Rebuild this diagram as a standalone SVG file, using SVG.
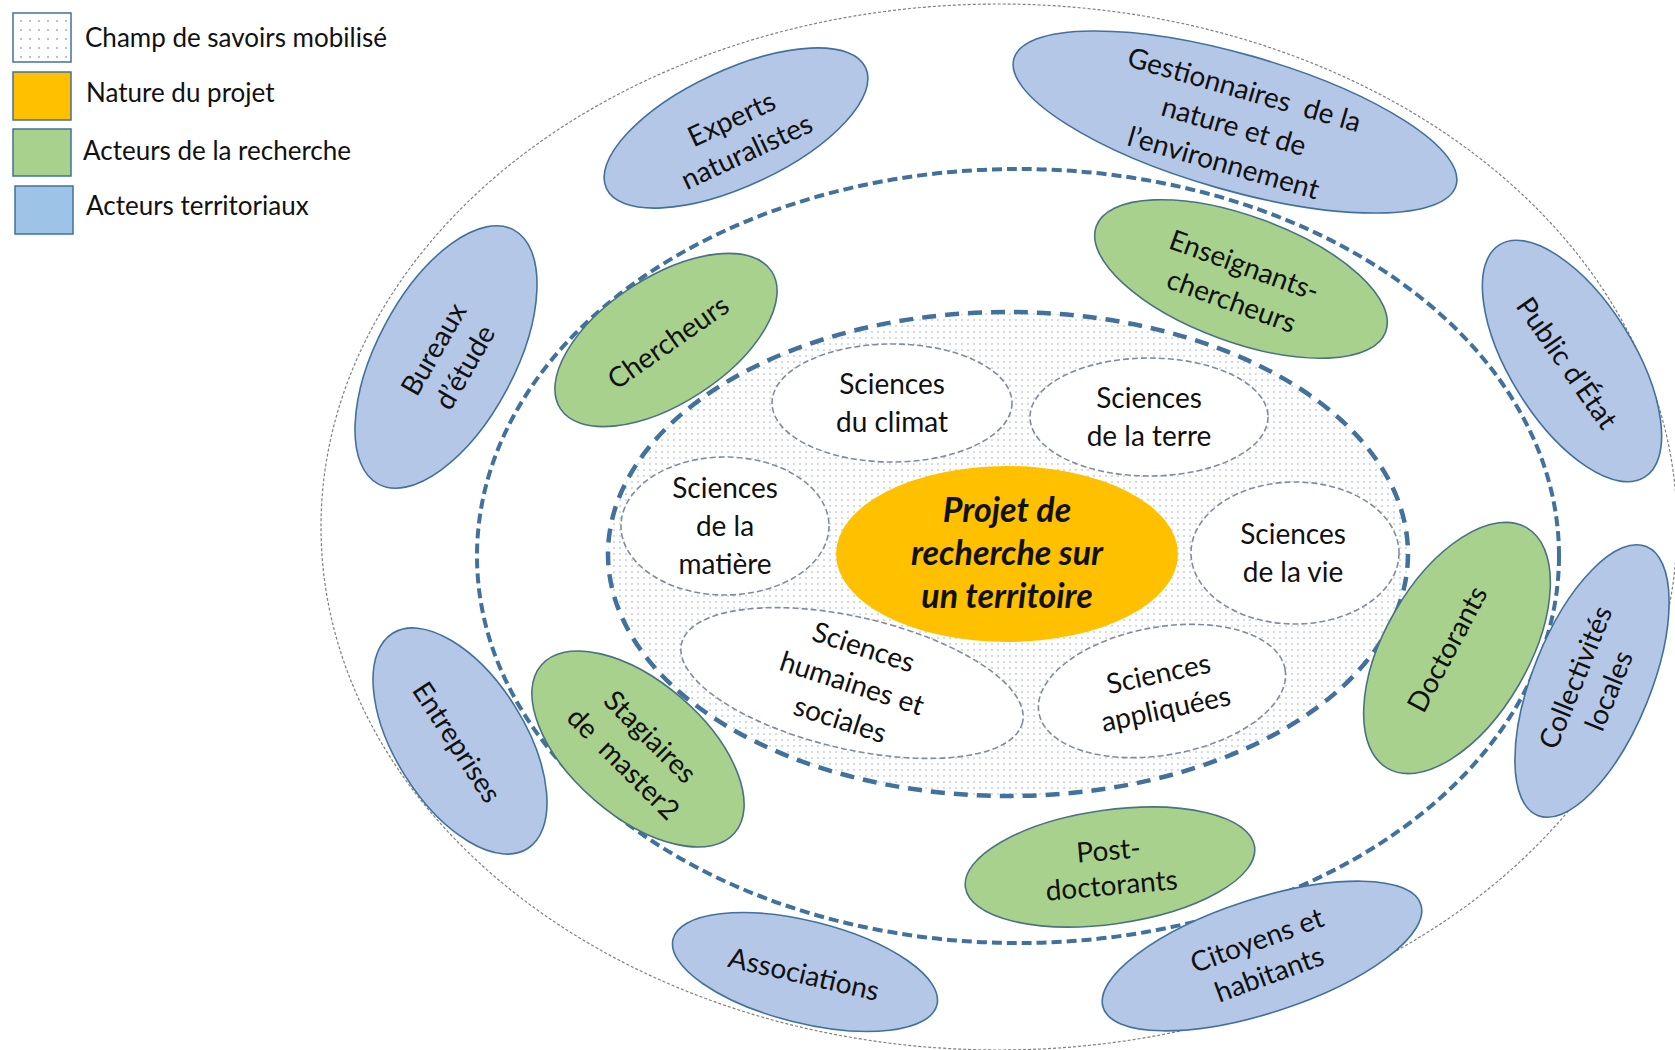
<svg xmlns="http://www.w3.org/2000/svg" width="1675" height="1050" viewBox="0 0 1675 1050">
<defs>
<pattern id="dots" width="6" height="6" patternUnits="userSpaceOnUse"><rect width="6" height="6" fill="#fff"/><circle cx="2" cy="2" r="0.75" fill="#9aa4b6"/></pattern>
<pattern id="dotsL" width="9" height="9" patternUnits="userSpaceOnUse"><rect width="9" height="9" fill="#fff"/><circle cx="3" cy="3" r="0.9" fill="#9aa4b6"/></pattern>
<style>
text { font-family: Lato, "Liberation Sans", sans-serif; fill: #111; text-anchor: middle; }
.lg { font-size: 26px; text-anchor: start; }
.n { font-size: 28px; }
.c { font-size: 34px; font-weight: bold; font-style: italic; }
.blue { fill: #B4C7E7; stroke: #41719C; stroke-width: 1.6; }
.green { fill: #A9D18E; stroke: #4A7380; stroke-width: 1.6; }
.sci { fill: #fff; stroke: #7F8C9E; stroke-width: 1.6; stroke-dasharray: 6 3; }
.box { stroke: #41719C; stroke-width: 1.5; }
</style>
</defs>
<rect width="1675" height="1050" fill="#fff"/>

<g id="legend">
  <rect class="box" x="13" y="13" width="58" height="49" fill="url(#dotsL)"/>
  <rect class="box" x="13" y="72" width="58" height="48" fill="#FFC000" stroke="#5a6f7f"/>
  <rect class="box" x="13" y="129" width="58" height="47" fill="#A9D18E"/>
  <rect class="box" x="15" y="186" width="58" height="48" fill="#9DC3E6"/>
  <text class="lg" x="85" y="47">Champ de savoirs mobilisé</text>
  <text class="lg" x="86" y="102">Nature du projet</text>
  <text class="lg" x="83" y="160">Acteurs de la recherche</text>
  <text class="lg" x="86" y="215">Acteurs territoriaux</text>
</g>

<g id="zones">
  <ellipse cx="999" cy="527" rx="678" ry="523" fill="none" stroke="#808080" stroke-width="1.2" stroke-dasharray="3 2"/>
  <ellipse cx="1018" cy="556" rx="541" ry="387" fill="none" stroke="#41719C" stroke-width="4" stroke-dasharray="10 5"/>
  <ellipse cx="1008" cy="554" rx="400" ry="242" fill="url(#dots)" stroke="#41719C" stroke-width="4.5" stroke-dasharray="14 9"/>
</g>

<g id="connectors"></g>

<g id="sci-climat" transform="translate(892,403)">
  <ellipse class="sci" rx="120" ry="59"/>
  <text class="n"><tspan x="0" y="-9">Sciences</tspan><tspan x="0" y="29">du climat</tspan></text>
</g>
<g id="sci-terre" transform="translate(1149,417)">
  <ellipse class="sci" rx="119" ry="59"/>
  <text class="n"><tspan x="0" y="-9">Sciences</tspan><tspan x="0" y="29">de la terre</tspan></text>
</g>
<g id="sci-matiere" transform="translate(725,526)">
  <ellipse class="sci" rx="104" ry="69"/>
  <text class="n"><tspan x="0" y="-28">Sciences</tspan><tspan x="0" y="10">de la</tspan><tspan x="0" y="48">matière</tspan></text>
</g>
<g id="sci-vie" transform="translate(1295,553)">
  <ellipse class="sci" rx="104" ry="71"/>
  <text class="n"><tspan x="-2" y="-9">Sciences</tspan><tspan x="-2" y="29">de la vie</tspan></text>
</g>
<g id="sci-humaines" transform="translate(852,683)">
  <ellipse class="sci" rx="175" ry="66" transform="rotate(13)"/>
  <text class="n" transform="rotate(18)"><tspan x="0" y="-28">Sciences</tspan><tspan x="0" y="10">humaines et</tspan><tspan x="0" y="48">sociales</tspan></text>
</g>
<g id="sci-appliquees" transform="translate(1162,691)">
  <ellipse class="sci" rx="125" ry="64" transform="rotate(-10)"/>
  <text class="n" transform="rotate(-12)"><tspan x="0" y="-8">Sciences</tspan><tspan x="0" y="28">appliquées</tspan></text>
</g>

<g id="projet" transform="translate(1007,554)">
  <ellipse rx="171" ry="88" fill="#FFC000"/>
  <text class="c"><tspan x="0" y="-32">Projet de</tspan><tspan x="0" y="11">recherche sur</tspan><tspan x="0" y="54">un territoire</tspan></text>
</g>

<g id="chercheurs" transform="translate(666,340)">
  <ellipse class="green" rx="126" ry="63" transform="rotate(-33)"/>
  <text class="n" transform="translate(2,2) rotate(-35)" y="10">Chercheurs</text>
</g>
<g id="enseignants" transform="translate(1241,279)">
  <ellipse class="green" rx="154" ry="63" transform="rotate(20)"/>
  <text class="n" transform="translate(-3,4) rotate(20)"><tspan x="0" y="-9">Enseignants-</tspan><tspan x="0" y="29">chercheurs</tspan></text>
</g>
<g id="doctorants" transform="translate(1457,648)">
  <ellipse class="green" rx="139" ry="72" transform="rotate(-60)"/>
  <text class="n" transform="translate(-10,1) rotate(-62)" y="10">Doctorants</text>
</g>
<g id="stagiaires" transform="translate(638,749)">
  <ellipse class="green" rx="128" ry="67" transform="rotate(41)"/>
  <text class="n" xml:space="preserve" transform="translate(-1,1) rotate(45)"><tspan x="0" y="-9">Stagiaires</tspan><tspan x="0" y="29">de  master2</tspan></text>
</g>
<g id="postdoc" transform="translate(1110,867)">
  <ellipse class="green" rx="146" ry="57" transform="rotate(-8)"/>
  <text class="n" transform="translate(0,1) rotate(-5)"><tspan x="0" y="-8">Post-</tspan><tspan x="0" y="27">doctorants</tspan></text>
</g>

<g id="experts" transform="translate(736,128)">
  <ellipse class="blue" rx="143" ry="58" transform="rotate(-25)"/>
  <text class="n" transform="translate(3,7) rotate(-25)"><tspan x="0" y="-8">Experts</tspan><tspan x="0" y="28">naturalistes</tspan></text>
</g>
<g id="gestionnaires" transform="translate(1235,122)">
  <ellipse class="blue" rx="230" ry="68" transform="rotate(16)"/>
  <text class="n" xml:space="preserve" transform="translate(-1,4) rotate(16)"><tspan x="0" y="-28">Gestionnaires  de la</tspan><tspan x="0" y="10">nature et de</tspan><tspan x="0" y="48">l’environnement</tspan></text>
</g>
<g id="public" transform="translate(1572,361)">
  <ellipse class="blue" rx="137" ry="62" transform="rotate(58)"/>
  <text class="n" transform="translate(-5,2) rotate(55)" y="10">Public d’État</text>
</g>
<g id="bureaux" transform="translate(446,357)">
  <ellipse class="blue" rx="144" ry="69" transform="rotate(-62)"/>
  <text class="n" transform="translate(3,1) rotate(-60)"><tspan x="0" y="-8">Bureaux</tspan><tspan x="0" y="28">d’étude</tspan></text>
</g>
<g id="entreprises" transform="translate(460,741)">
  <ellipse class="blue" rx="127" ry="65" transform="rotate(58)"/>
  <text class="n" transform="translate(-3,1) rotate(57)" y="10">Entreprises</text>
</g>
<g id="associations" transform="translate(805,972)">
  <ellipse class="blue" rx="136" ry="51" transform="rotate(14)"/>
  <text class="n" transform="translate(-1,2) rotate(13)" y="10">Associations</text>
</g>
<g id="citoyens" transform="translate(1262,956)">
  <ellipse class="blue" rx="167" ry="57" transform="rotate(-18)"/>
  <text class="n" transform="translate(1,1) rotate(-20)"><tspan x="0" y="-8">Citoyens et</tspan><tspan x="0" y="28">habitants</tspan></text>
</g>
<g id="collectivites" transform="translate(1592,681)">
  <ellipse class="blue" rx="145" ry="59" transform="rotate(-68)"/>
  <text class="n" transform="translate(0,3) rotate(-68)"><tspan x="0" y="-8">Collectivités</tspan><tspan x="0" y="28">locales</tspan></text>
</g>
</svg>
